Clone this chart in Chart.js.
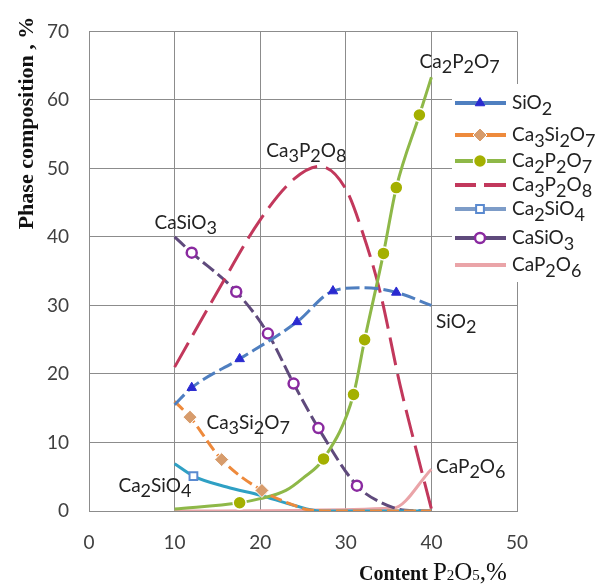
<!DOCTYPE html>
<html lang="en">
<head>
<meta charset="UTF-8">
<title>Phase composition vs P2O5 content</title>
<style>
    body { margin: 0; padding: 0; background: #fff; }
    .wrap { width: 606px; height: 586px; position: relative; }
</style>
</head>
<body>
<div class="wrap"><canvas id="phaseChart"></canvas></div>

<script src="https://cdn.jsdelivr.net/npm/chart.js"></script>
<script>
    // Data (x = P2O5 content %, y = phase %)
    const xSiO2 = [10, 12, 17.6, 24.3, 28.5, 32, 35.9, 40];
    const ySiO2 = [15.5, 18, 22.2, 27.6, 32.1, 32.6, 31.9, 30];

    const xCa3Si2O7 = [10, 11.8, 15.5, 20.2, 23.9, 26, 30, 40];
    const yCa3Si2O7 = [16, 13.7, 7.5, 3.0, 0.85, 0.1, 0, 0];

    const xCa2P2O7 = [10, 17.6, 20, 23, 25, 27.4, 30.9, 32.2, 34.4, 35.9, 38.6, 40];
    const yCa2P2O7 = [0.3, 1.2, 1.8, 3.0, 4.8, 7.6, 17, 25, 37.6, 47.2, 57.8, 63.3];

    const xCa3P2O8 = [10, 15, 20, 24, 27, 30, 32, 34, 36.3, 38, 40];
    const yCa3P2O8 = [21, 32, 42.5, 48.5, 50.3, 47, 40.5, 32, 18.6, 10, 0.3];

    const xCa2SiO4 = [10, 12.2, 16.1, 20, 23.9, 27, 40];
    const yCa2SiO4 = [6.9, 5.1, 3.5, 2.3, 0.85, 0, 0];

    const xCaSiO3 = [10, 12, 17.2, 20.9, 23.9, 26.8, 31.3, 34, 37, 40];
    const yCaSiO3 = [40, 37.7, 32, 25.9, 18.6, 12.1, 3.7, 1.3, 0.1, 0];

    const xCaP2O6 = [10, 35.5, 40];
    const yCaP2O6 = [0, 0.4, 6.1];

    // which points carry a marker
    const marksSiO2 = [1, 2, 3, 4, 6];
    const marksCa3Si2O7 = [1, 2, 3];
    const marksCa2P2O7 = [1, 5, 6, 7, 8, 9, 10];
    const marksCa2SiO4 = [1];
    const marksCaSiO3 = [1, 2, 3, 4, 5, 6];

    const xTicks = [0, 10, 20, 30, 40, 50];
    const yTicks = [0, 10, 20, 30, 40, 50, 60, 70];

    const FONT = 'Lato, "Open Sans", sans-serif';
    const SERIF = '"Liberation Serif", "DejaVu Serif", serif';

    function pts(xs, ys) {
        return xs.map((x, i) => ({ x: x, y: ys[i] }));
    }

    function marker(list, r) {
        return ctx => list.includes(ctx.dataIndex) ? r : 0;
    }

    // series styles (also used by the legend)
    const series = [
        { name: 'SiO2', x: xSiO2, y: ySiO2, marks: marksSiO2, color: '#4f7fc0', dash: [14, 5],
          pt: { style: 'triangle', r: 5.5, fill: '#2a2ad0', stroke: '#2a2ad0', bw: 1 } },
        { name: 'Ca3Si2O7', x: xCa3Si2O7, y: yCa3Si2O7, marks: marksCa3Si2O7, color: '#ee8a3c', dash: [12, 5],
          pt: { style: 'rectRot', r: 7, fill: '#d79c6c', stroke: '#fff', bw: 1 } },
        { name: 'Ca2P2O7', x: xCa2P2O7, y: yCa2P2O7, marks: marksCa2P2O7, color: '#8eb848', dash: [],
          pt: { style: 'circle', r: 6.5, fill: '#a4b000', stroke: '#fff', bw: 1.5 } },
        { name: 'Ca3P2O8', x: xCa3P2O8, y: yCa3P2O8, marks: [], color: '#c2385c', dash: [28, 9],
          pt: null },
        { name: 'Ca2SiO4', x: xCa2SiO4, y: yCa2SiO4, marks: marksCa2SiO4, color: '#2fa0c4', dash: [],
          pt: { style: 'rect', r: 5.5, fill: '#fff', stroke: '#5a8ad0', bw: 2 } },
        { name: 'CaSiO3', x: xCaSiO3, y: yCaSiO3, marks: marksCaSiO3, color: '#5f4a7c', dash: [14, 5],
          pt: { style: 'circle', r: 5, fill: '#fff', stroke: '#8a2aa0', bw: 2.5 } },
        { name: 'CaP2O6', x: xCaP2O6, y: yCaP2O6, marks: [], color: '#eaa4a8', dash: [],
          pt: null }
    ];

    // draw chemical formula with digits as subscripts
    function drawFormula(ctx, text, x, y, size, align, color) {
        const parts = text.match(/[^\d]+|\d+/g);
        let w = 0;
        parts.forEach(p => {
            const sub = /^\d/.test(p);
            ctx.font = (sub ? size * 0.95 : size) + 'px ' + FONT;
            w += ctx.measureText(p).width;
        });
        let cx = align === 'center' ? x - w / 2 : x;
        ctx.fillStyle = color || '#222';
        ctx.textAlign = 'left';
        ctx.textBaseline = 'middle';
        parts.forEach(p => {
            const sub = /^\d/.test(p);
            ctx.font = (sub ? size * 0.95 : size) + 'px ' + FONT;
            ctx.fillText(p, cx, y + (sub ? size * 0.3 : 0));
            cx += ctx.measureText(p).width;
        });
    }

    // in-plot labels, placed in data units
    const plotLabels = [
        { text: 'Ca2P2O7', x: 43.3, y: 65.6 },
        { text: 'Ca3P2O8', x: 25.4, y: 52.6 },
        { text: 'CaSiO3', x: 11.3, y: 42.1 },
        { text: 'SiO2', x: 42.9, y: 27.6 },
        { text: 'Ca3Si2O7', x: 18.6, y: 12.9 },
        { text: 'Ca2SiO4', x: 7.7, y: 3.7 },
        { text: 'CaP2O6', x: 44.6, y: 6.5 }
    ];

    const labelsPlugin = {
        id: 'labels',
        afterDatasetsDraw(chart) {
            const ctx = chart.ctx;
            const xs = chart.scales.x, ys = chart.scales.y;
            ctx.save();
            plotLabels.forEach(l => {
                drawFormula(ctx, l.text, xs.getPixelForValue(l.x), ys.getPixelForValue(l.y), 19, 'center', '#222');
            });

            // legend box over the right side of the plot
            ctx.fillStyle = '#fff';
            ctx.fillRect(452, 84, 154, 198);
            const rows = [103, 135, 161, 185, 209, 238, 265];
            series.forEach((s, i) => {
                const y = rows[i];
                ctx.save();
                ctx.strokeStyle = s.name === 'Ca2SiO4' ? '#7d9cc8' : s.color;
                ctx.lineWidth = 4;
                ctx.beginPath();
                if (s.name === 'Ca3P2O8') {
                    ctx.moveTo(455, y); ctx.lineTo(476, y);
                    ctx.moveTo(484, y); ctx.lineTo(506, y);
                } else {
                    ctx.moveTo(455, y); ctx.lineTo(506, y);
                }
                ctx.stroke();
                if (s.pt) {
                    ctx.fillStyle = s.pt.fill;
                    ctx.strokeStyle = s.pt.stroke;
                    ctx.lineWidth = s.pt.bw;
                    Chart.helpers.drawPoint(ctx, {
                        pointStyle: s.pt.style, radius: s.pt.r, rotation: 0,
                        borderWidth: s.pt.bw
                    }, 480, y);
                }
                ctx.restore();
                drawFormula(ctx, s.name, 512, y, 19, 'left', '#222');
            });

            // axis titles
            ctx.fillStyle = '#111';
            ctx.textBaseline = 'middle';
            ctx.textAlign = 'center';
            ctx.save();
            ctx.translate(27, 123);
            ctx.rotate(-Math.PI / 2);
            ctx.font = 'bold 22px ' + SERIF;
            ctx.fillText('Phase composition , %', 0, 0);
            ctx.restore();

            ctx.textAlign = 'left';
            ctx.textBaseline = 'alphabetic';
            let cx = 359;
            const by = 580;
            ctx.font = 'bold 20px ' + SERIF;
            ctx.fillText('Content', cx, by);
            cx += ctx.measureText('Content ').width;
            const pieces = [['P', 25], ['2', 15], ['O', 25], ['5', 15], [',%', 25]];
            pieces.forEach(p => {
                ctx.font = p[1] + 'px ' + SERIF;
                ctx.fillText(p[0], cx, by);
                cx += ctx.measureText(p[0]).width;
            });
            ctx.restore();
        }
    };

    const datasets = series.map(s => ({
        label: s.name,
        data: pts(s.x, s.y),
        borderColor: s.color,
        borderWidth: 3,
        borderDash: s.dash,
        cubicInterpolationMode: 'monotone',
        fill: false,
        pointStyle: s.pt ? s.pt.style : 'circle',
        pointRadius: s.pt ? marker(s.marks, s.pt.r) : 0,
        pointBackgroundColor: s.pt ? s.pt.fill : s.color,
        pointBorderColor: s.pt ? s.pt.stroke : s.color,
        pointBorderWidth: s.pt ? s.pt.bw : 0,
        pointHoverRadius: 0
    }));

    new Chart(document.getElementById('phaseChart'), {
        type: 'line',
        data: { datasets: datasets },
        options: {
            responsive: true,
            maintainAspectRatio: false,
            animation: false,
            layout: { padding: { left: 0, top: 19, right: 89, bottom: 0 } },
            plugins: { legend: { display: false }, tooltip: { enabled: false } },
            scales: {
                x: {
                    type: 'linear', min: 0, max: 50,
                    afterBuildTicks: scale => { scale.ticks = xTicks.map(v => ({ value: v })); },
                    afterFit: scale => { scale.height = 75; },
                    grid: { color: '#8c8c8c', lineWidth: 1, drawTicks: false },
                    border: { color: '#8c8c8c' },
                    ticks: { color: '#404040', font: { family: FONT, size: 19 }, padding: 20 }
                },
                y: {
                    type: 'linear', min: 0, max: 70,
                    afterBuildTicks: scale => { scale.ticks = yTicks.map(v => ({ value: v })); },
                    afterFit: scale => { scale.width = 89; },
                    grid: { color: '#8c8c8c', lineWidth: 1, drawTicks: false },
                    border: { color: '#8c8c8c' },
                    ticks: { color: '#404040', font: { family: FONT, size: 19 }, padding: 20 }
                }
            }
        },
        plugins: [labelsPlugin]
    });
</script>
</body>
</html>
